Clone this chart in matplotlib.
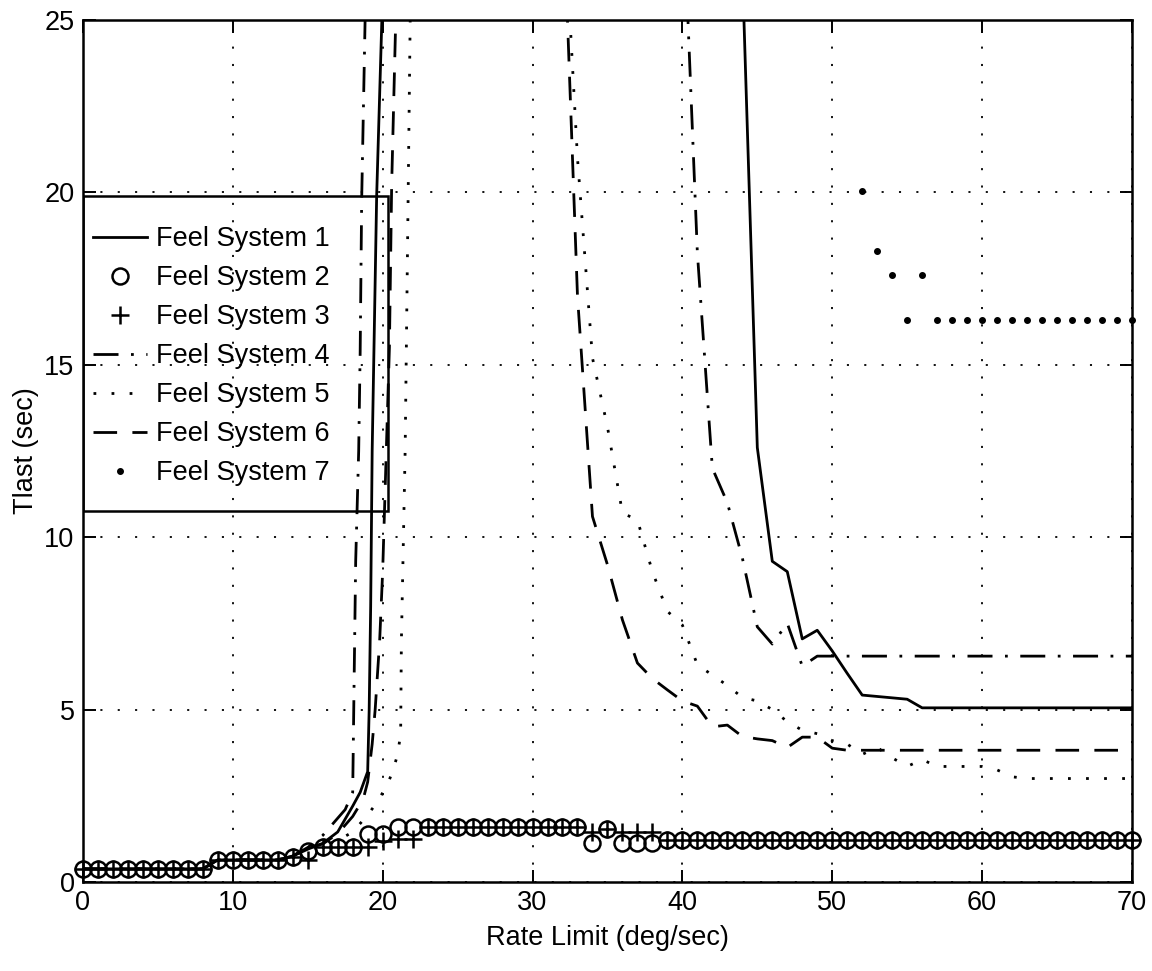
import numpy as np
import matplotlib
matplotlib.use('Agg')
import matplotlib.pyplot as plt
from matplotlib.patches import Rectangle

inf = np.inf  # curve has run off the top of the chart (diverged)

# feel systems 2 and 3 : one value per integer rate limit (0..70 deg/sec)
rate = np.arange(0, 71)
tlast_2 = [0.38, 0.38, 0.38, 0.38, 0.38, 0.38, 0.38, 0.38, 0.38, 0.64,
           0.64, 0.64, 0.64, 0.64, 0.73, 0.90, 1.00, 1.00, 1.00, 1.40,
           1.40, 1.60, 1.60, 1.60, 1.60, 1.60, 1.60, 1.60, 1.60, 1.60,
           1.60, 1.60, 1.60, 1.60, 1.12, 1.55, 1.12, 1.12, 1.12, 1.22,
           1.22, 1.22, 1.22, 1.22, 1.22, 1.22, 1.22, 1.22, 1.22, 1.22,
           1.22, 1.22, 1.22, 1.22, 1.22, 1.22, 1.22, 1.22, 1.22, 1.22,
           1.22, 1.22, 1.22, 1.22, 1.22, 1.22, 1.22, 1.22, 1.22, 1.22,
           1.22]
tlast_3 = [0.38, 0.38, 0.38, 0.38, 0.38, 0.38, 0.38, 0.38, 0.38, 0.64,
           0.64, 0.64, 0.64, 0.64, 0.73, 0.65, 1.00, 1.00, 1.00, 1.00,
           1.20, 1.25, 1.25, 1.60, 1.60, 1.60, 1.60, 1.60, 1.60, 1.60,
           1.60, 1.60, 1.60, 1.60, 1.45, 1.55, 1.45, 1.45, 1.45, 1.22,
           1.22, 1.22, 1.22, 1.22, 1.22, 1.22, 1.22, 1.22, 1.22, 1.22,
           1.22, 1.22, 1.22, 1.22, 1.22, 1.22, 1.22, 1.22, 1.22, 1.22,
           1.22, 1.22, 1.22, 1.22, 1.22, 1.22, 1.22, 1.22, 1.22, 1.22,
           1.22]

# feel system 1 (solid)
x_1 = [0, 8, 9, 13, 14, 15, 16, 17, 18, 18.5, 19, 19.1, 19.2, 19.3, 19.6, 20.0, 21,
       44, 45, 46, 47, 48, 49, 50, 51, 52, 53, 54, 55, 56, 70]
y_1 = [0.38, 0.38, 0.64, 0.64, 0.75, 0.95, 1.12, 1.45, 2.2, 2.6, 3.2, 5.0, 8.0, 12.5, 19.9, 25.8, inf,
       26.5, 12.6, 9.3, 9.0, 7.05, 7.3, 6.7, 6.05, 5.42, 5.38, 5.34, 5.3, 5.05, 5.05]

# feel system 4 (dash-dot)
x_4 = [0, 8, 9, 13, 14, 15, 16, 16.6, 17, 17.5, 18, 18.1, 18.2, 18.4, 18.5, 18.6, 18.85, 19,
       40, 41, 42, 43, 44, 45, 46, 47, 48, 49, 70]
y_4 = [0.38, 0.38, 0.64, 0.64, 0.75, 1.0, 1.35, 1.65, 1.85, 2.1, 2.6, 6.0, 9.3, 12.5, 15.4, 19.8, 25.5, inf,
       29.0, 18.25, 12.0, 11.0, 9.4, 7.4, 6.9, 7.5, 6.26, 6.55, 6.55]

# feel system 5 (dotted)
x_5 = [0, 8, 9, 13, 14, 15, 16, 17, 18, 19, 19.6, 20.3, 20.7, 21.0, 21.2, 21.25, 21.5, 21.7, 21.85, 22,
       32, 33, 34, 35, 36, 37, 38, 39, 40, 41, 42, 43, 44, 45, 46, 47, 48, 49, 50,
       51, 52, 53, 54, 55, 56, 57, 58, 59, 60, 61, 62, 63, 70]
y_5 = [0.38, 0.38, 0.64, 0.64, 0.75, 1.0, 1.05, 1.2, 1.45, 1.94, 2.3, 2.8, 3.25, 3.7, 4.3, 7.0, 12.5, 19.9, 25.5, inf,
       29.0, 21.0, 15.2, 13.2, 10.7, 10.5, 9.0, 7.85, 7.45, 6.3, 6.0, 5.7, 5.35, 5.25, 5.0, 4.65, 4.4, 4.3, 4.1,
       4.0, 3.7, 3.9, 3.6, 3.35, 3.55, 3.35, 3.35, 3.35, 3.35, 3.25, 3.05, 3.0, 3.0]

# feel system 6 (dashed)
x_6 = [0, 8, 9, 13, 14, 15, 16, 17, 18, 18.7, 19.0, 19.3, 19.5, 19.8, 20.0, 20.45, 20.6, 20.9, 21,
       32, 33, 34, 35, 36, 37, 38, 39, 40, 41, 42, 43, 44, 45, 46, 47, 48, 49, 50, 51, 70]
y_6 = [0.38, 0.38, 0.64, 0.64, 0.75, 1.0, 1.1, 1.4, 1.9, 2.4, 2.9, 4.0, 5.0, 7.0, 9.0, 15.5, 20.2, 25.5, inf,
       29.0, 17.0, 10.6, 9.2, 7.6, 6.35, 5.9, 5.57, 5.25, 5.1, 4.5, 4.55, 4.22, 4.15, 4.1, 3.9, 4.2, 4.2, 3.88, 3.82, 3.82]

# feel system 7 (points), only on the chart from 52 deg/sec
x_7 = [52, 53, 54, 55, 56, 57, 58, 59, 60, 61, 62, 63, 64, 65, 66, 67, 68, 69, 70]
y_7 = [20.05, 18.3, 17.6, 16.3, 17.6, 16.3, 16.3, 16.3, 16.3, 16.3, 16.3, 16.3, 16.3, 16.3,
       16.3, 16.3, 16.3, 16.3, 16.3]

labels = ['Feel System 1', 'Feel System 2', 'Feel System 3', 'Feel System 4',
          'Feel System 5', 'Feel System 6', 'Feel System 7']

plt.rcParams['font.family'] = ['Liberation Sans', 'DejaVu Sans']
plt.rcParams['font.size'] = 19.5
plt.rcParams['lines.scale_dashes'] = False

fig = plt.figure(figsize=(11.52, 9.71), dpi=100)
ax = fig.add_axes([0.072, 0.0917, 0.9106, 0.8877])

lw = 2.0
h1, = ax.plot(x_1, y_1, color='k', lw=lw, ls='-')
h2, = ax.plot(rate, tlast_2, ls='none', marker='o', ms=11.5, mew=1.8,
              mfc='none', mec='k', clip_on=False)
h3, = ax.plot(rate, tlast_3, ls='none', marker='+', ms=13, mew=1.8,
              color='k', clip_on=False)
h4, = ax.plot(x_4, y_4, color='k', lw=lw, ls=(0, (18, 9, 2, 9)))
h5, = ax.plot(x_5, y_5, color='k', lw=lw, ls=(0, (2, 11)))
h6, = ax.plot(x_6, y_6, color='k', lw=lw, ls=(0, (17, 11)))
h7, = ax.plot(x_7, y_7, ls='none', marker='.', ms=8, color='k', clip_on=False)

ax.set_xlim(0, 70)
ax.set_ylim(0, 25)
ax.set_xticks(np.arange(0, 71, 10))
ax.set_yticks(np.arange(0, 26, 5))
ax.grid(True, color='k', lw=1.3, ls=(0, (1.5, 11)))
ax.tick_params(direction='in', top=True, right=True, length=9, width=1.4, pad=6)
for s in ax.spines.values():
    s.set_linewidth(1.8)

ax.set_xlabel('Rate Limit (deg/sec)', labelpad=6)
ax.set_ylabel('Tlast (sec)', labelpad=4)

# legend (transparent box, MATLAB style)
ax.legend([h1, h2, h3, h4, h5, h6, h7], labels, loc='upper left',
          bbox_to_anchor=(0.0095, 0.761), borderpad=0, borderaxespad=0,
          frameon=False, handlelength=2.0, handletextpad=0.33,
          labelspacing=0.48, fontsize=19.5)
ax.add_patch(Rectangle((0, 10.75), 20.35, 9.15, fill=False, lw=1.8,
                       ec='k', zorder=5))

fig.savefig('out.png', dpi=100)
